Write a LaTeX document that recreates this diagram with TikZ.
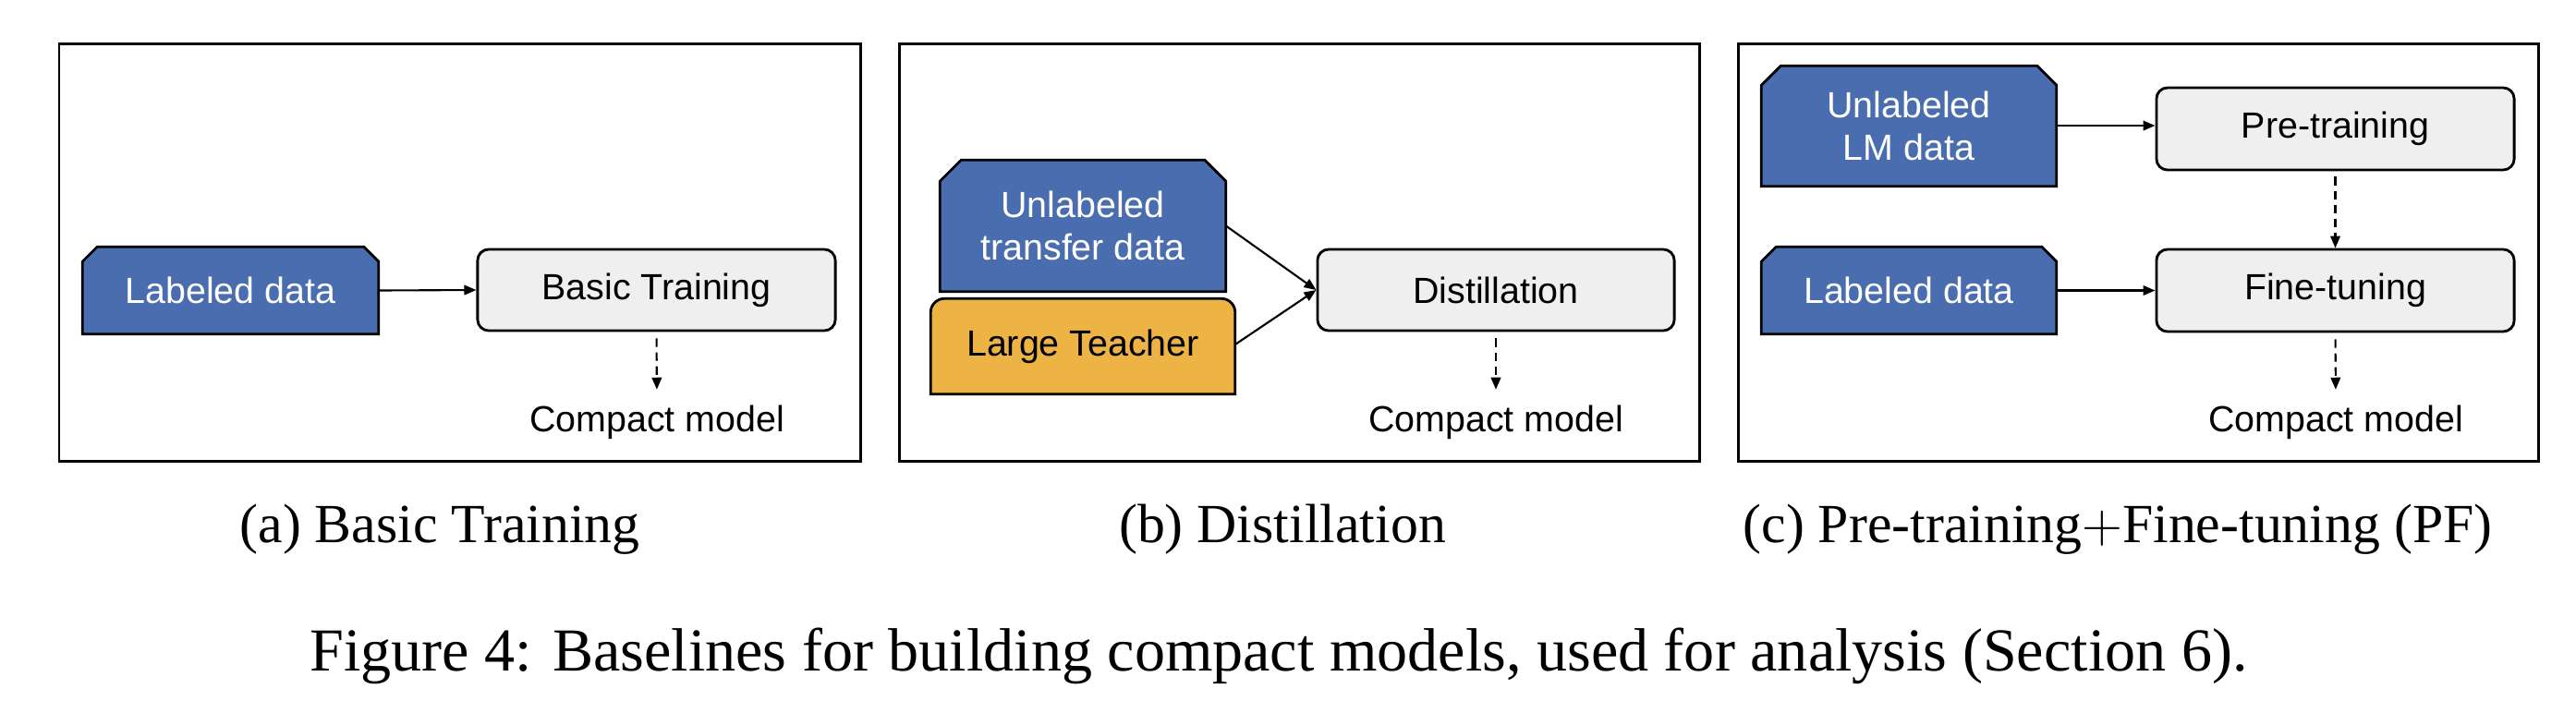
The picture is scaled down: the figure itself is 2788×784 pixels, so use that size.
\documentclass[tikz,border=0pt]{standalone}
\usepackage{fontspec}
\setmainfont{Liberation Serif}
\newfontfamily\arialf{Liberation Sans}
\usetikzlibrary{arrows.meta,backgrounds}
\definecolor{dblue}{HTML}{4A6DAF}
\definecolor{dorange}{HTML}{EDB445}
\definecolor{lgray}{HTML}{EFEFEF}
\newcommand\chamfbox[2]{%
  \begin{pgfonlayer}{background}
  \draw[boxline,fill=dblue] (#1.south west) -- ([yshift=-#2]#1.north west) -- ([xshift=#2]#1.north west) -- ([xshift=-#2]#1.north east) -- ([yshift=-#2]#1.north east) -- (#1.south east) -- cycle;
  \end{pgfonlayer}}
\begin{document}
\begin{tikzpicture}[x=0.01cm,y=-0.01cm,
  panel/.style={draw=black,line width=0.85pt},
  boxline/.style={draw=black,line width=0.8pt},
  sansfont/.style={font=\arialf\fontsize{11.2}{13.2}\selectfont},
  proc/.style={boxline,fill=lgray,rounded corners=0.12cm,sansfont,inner sep=0pt},
  data/.style={sansfont,text=white,align=center,inner sep=0pt},
  teach/.style={sansfont,align=center,inner sep=0pt},
  cmod/.style={sansfont,inner sep=0pt,anchor=base},
  arr/.style={-{Triangle[length=3.7pt,width=3pt]},line width=0.6pt},
  darr/.style={arr,dash pattern=on 2.6pt off 1.7pt},
  capt/.style={font=\fontsize{17}{20}\selectfont,inner sep=0pt,anchor=base},
  figcapt/.style={font=\fontsize{18.8}{22}\selectfont,inner sep=0pt,anchor=base}
]
\useasboundingbox (0,0) rectangle (2788,784);

% ---------- panel (a)
\draw[panel] (64,47) rectangle (931,499);
\node[data,minimum width=3.19cm,minimum height=0.93cm] (labA) at (249.5,314.5) {Labeled data};
\chamfbox{labA}{0.16cm}
\node[proc,minimum width=3.87cm,minimum height=0.88cm] (basic) at (710.5,314) {Basic Training};
\node[cmod] (cmA) at (711,467) {Compact model};
\draw[arr] (labA.east) -- (basic.west);
\draw[darr,shorten <=0.07cm,shorten >=0.16cm] (basic.south) -- (cmA.north);

% ---------- panel (b)
\draw[panel] (973,47) rectangle (1839,499);
\node[data,minimum width=3.08cm,minimum height=1.41cm] (unl) at (1172,244.5) {Unlabeled\\transfer data};
\chamfbox{unl}{0.23cm}
\node[teach,minimum width=3.28cm,minimum height=1.02cm] (teacher) at (1172,375) {Large Teacher};
\begin{pgfonlayer}{background}
\draw[boxline,fill=dorange] (teacher.south west) -- ([yshift=-0.15cm]teacher.north west) arc[start angle=180,end angle=90,radius=0.15cm] -- ([xshift=-0.15cm]teacher.north east) arc[start angle=90,end angle=0,radius=0.15cm] -- (teacher.south east) -- cycle;
\end{pgfonlayer}
\node[proc,minimum width=3.86cm,minimum height=0.88cm] (distil) at (1619,314) {Distillation};
\node[cmod] (cmB) at (1619,467) {Compact model};
\draw[arr] (unl.east) -- (distil.west);
\draw[arr] ([yshift=0.02cm]teacher.east) -- (distil.west);
\draw[darr,shorten <=0.07cm,shorten >=0.16cm] (distil.south) -- (cmB.north);

% ---------- panel (c)
\draw[panel] (1881,47) rectangle (2747,499);
\node[data,minimum width=3.18cm,minimum height=1.29cm] (unlLM) at (2066,136.5) {Unlabeled\\LM data};
\chamfbox{unlLM}{0.21cm}
\node[data,minimum width=3.18cm,minimum height=0.93cm] (labC) at (2066,314.5) {Labeled data};
\chamfbox{labC}{0.16cm}
\node[proc,minimum width=3.87cm,minimum height=0.89cm] (pre) at (2527.5,139.5) {Pre-training};
\node[proc,minimum width=3.87cm,minimum height=0.89cm] (fine) at (2527.5,314.5) {Fine-tuning};
\node[cmod] (cmC) at (2528,467) {Compact model};
\draw[arr] ([yshift=0.005cm]unlLM.east) -- ([yshift=0.005cm]unlLM.east -| pre.west);
\draw[arr] (labC.east) -- (labC.east -| fine.west);
\draw[darr,shorten <=0.06cm] (pre.south) -- (fine.north);
\draw[darr,shorten <=0.07cm,shorten >=0.16cm] (fine.south) -- (cmC.north);

% ---------- captions
\node[capt] (capa) at (476,587) {(a) Basic Training};
\node[capt] (capb) at (1388,587) {(b) Distillation};
\node[capt] (capc) at (2292,587) {(c) Pre-training$+$Fine-tuning (PF)};
\node[figcapt] (figcap) at (1384,726) {Figure 4: Baselines for building compact models, used for analysis (Section 6).};
\end{tikzpicture}
\end{document}
